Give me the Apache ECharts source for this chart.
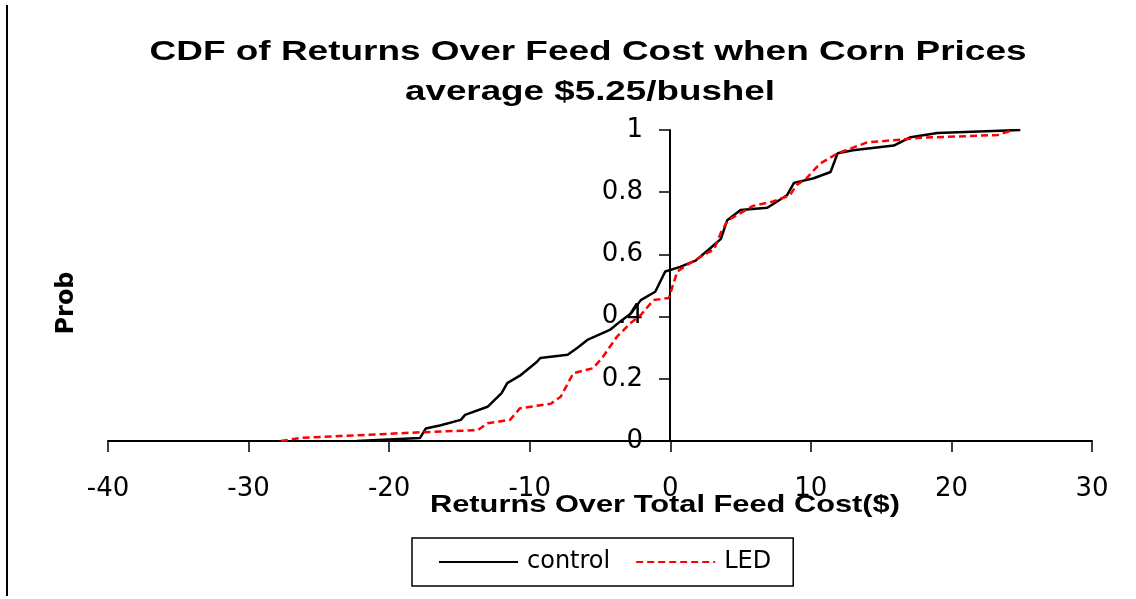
<!DOCTYPE html>
<html><head><meta charset="utf-8">
<script src="https://cdn.jsdelivr.net/npm/echarts@6/dist/echarts.min.js"></script>
<style>html,body{margin:0;padding:0;background:#fff}#c{width:1136px;height:599px}</style>
</head><body><div id="c"></div>
<script>
const controlX = [-22.3,-17.8,-17.4,-16.4,-14.9,-14.6,-13.0,-12.0,-11.6,-10.7,-9.5,-9.25,-7.3,-6.6,-5.9,-4.3,-3.6,-2.8,-2.1,-1.07,-0.36,0.7,1.8,2.7,3.6,4.05,5.0,6.9,8.3,8.8,10.2,11.4,11.9,13.0,15.9,17.1,19.0,24.9];
const controlP = [0,0.01,0.04,0.05,0.068,0.084,0.11,0.154,0.186,0.21,0.254,0.267,0.277,0.3,0.325,0.357,0.383,0.41,0.453,0.48,0.545,0.56,0.58,0.614,0.65,0.71,0.743,0.75,0.79,0.83,0.845,0.865,0.925,0.935,0.95,0.977,0.99,1.0];
const ledX = [-27.7,-26.3,-23.5,-20.6,-17.8,-14.9,-13.7,-13.0,-11.4,-10.7,-8.5,-7.8,-6.9,-5.5,-4.8,-3.8,-2.8,-2.1,-1.2,-0.1,0.5,1.4,2.6,3.1,3.6,4.1,5.0,5.9,7.3,8.5,9.0,9.7,10.4,10.7,11.9,14.0,16.6,17.8,23.3,24.2];
const ledP = [0,0.01,0.016,0.022,0.028,0.033,0.035,0.057,0.068,0.105,0.12,0.142,0.218,0.234,0.27,0.335,0.38,0.405,0.453,0.46,0.545,0.572,0.604,0.615,0.67,0.71,0.733,0.756,0.77,0.79,0.823,0.845,0.88,0.893,0.925,0.96,0.97,0.975,0.984,0.997];
const xTicks = [-40,-30,-20,-10,0,10,20,30];
const yTicks = [0,0.2,0.4,0.6,0.8,1];
const titleLines = ['CDF of Returns Over Feed Cost when Corn Prices','average $5.25/bushel'];
const xName = 'Returns Over Total Feed Cost($)';
const yName = 'Prob';
const seriesNames = ['control','LED'];

const lib = 'Liberation Sans, Arial, sans-serif';
const dv = 'DejaVu Sans, sans-serif';
const ctx = document.createElement('canvas').getContext('2d');
function stretched(text, cx, cy, font, size, weight, targetW) {
  ctx.font = weight + ' ' + size + 'px ' + font;
  const w = ctx.measureText(text).width;
  return {type: 'text', x: cx, y: cy, scaleX: targetW / w,
    style: {text: text, fontFamily: font, fontWeight: weight, fontSize: size, fill: '#000', align: 'center', verticalAlign: 'middle'}};
}

const chart = echarts.init(document.getElementById('c'));
chart.setOption({
  animation: false,
  backgroundColor: '#fff',
  legend: {
    data: seriesNames,
    left: 412, top: 538,
    padding: [12, 22, 12, 26],
    itemGap: 25, itemWidth: 79, itemHeight: 24,
    borderColor: '#000', borderWidth: 1.5,
    itemStyle: {opacity: 0},
    textStyle: {fontFamily: dv, fontSize: 24, color: '#000', padding: [0, 0, 0, 4]}
  },
  grid: {left: 108, right: 44, top: 130, bottom: 158, containLabel: false},
  xAxis: {
    type: 'value', min: -40, max: 30, interval: 10,
    axisLine: {lineStyle: {color: '#000', width: 2}},
    axisTick: {show: true, length: 11, lineStyle: {color: '#000', width: 1.5}},
    axisLabel: {fontFamily: dv, fontSize: 26, color: '#000', margin: 35},
    splitLine: {show: false}
  },
  yAxis: {
    type: 'value', min: 0, max: 1, interval: 0.2,
    offset: -562,
    axisLine: {onZero: false, lineStyle: {color: '#000', width: 2}},
    axisTick: {show: true, length: 11, lineStyle: {color: '#000', width: 1.5}},
    axisLabel: {fontFamily: dv, fontSize: 26, color: '#000', margin: 27,
      formatter: v => String(+v.toFixed(1))},
    splitLine: {show: false}
  },
  graphic: [
    {type: 'line', shape: {x1: 7, y1: 5, x2: 7, y2: 596}, style: {stroke: '#000', lineWidth: 2}},
    stretched(titleLines[0], 588, 52, lib, 28, 'bold', 877),
    stretched(titleLines[1], 590, 92, lib, 28, 'bold', 370),
    stretched(xName, 665, 505, lib, 24, 'bold', 470),
    Object.assign({rotation: Math.PI/2}, {type: 'text', x: 67, y: 303,
      style: {text: yName, fontFamily: dv, fontWeight: 'bold', fontSize: 24, fill: '#000', align: 'center', verticalAlign: 'middle'}})
  ],
  series: [
    {name: seriesNames[0], type: 'line', symbol: 'none', data: controlX.map((x,i)=>[x,controlP[i]]),
     lineStyle: {color: '#000', width: 2.5}, itemStyle: {color: '#000'}},
    {name: seriesNames[1], type: 'line', symbol: 'none', data: ledX.map((x,i)=>[x,ledP[i]]),
     lineStyle: {color: '#ff0000', width: 2.5, type: [7,4]}, itemStyle: {color: '#ff0000'}}
  ]
});
</script></body></html>
